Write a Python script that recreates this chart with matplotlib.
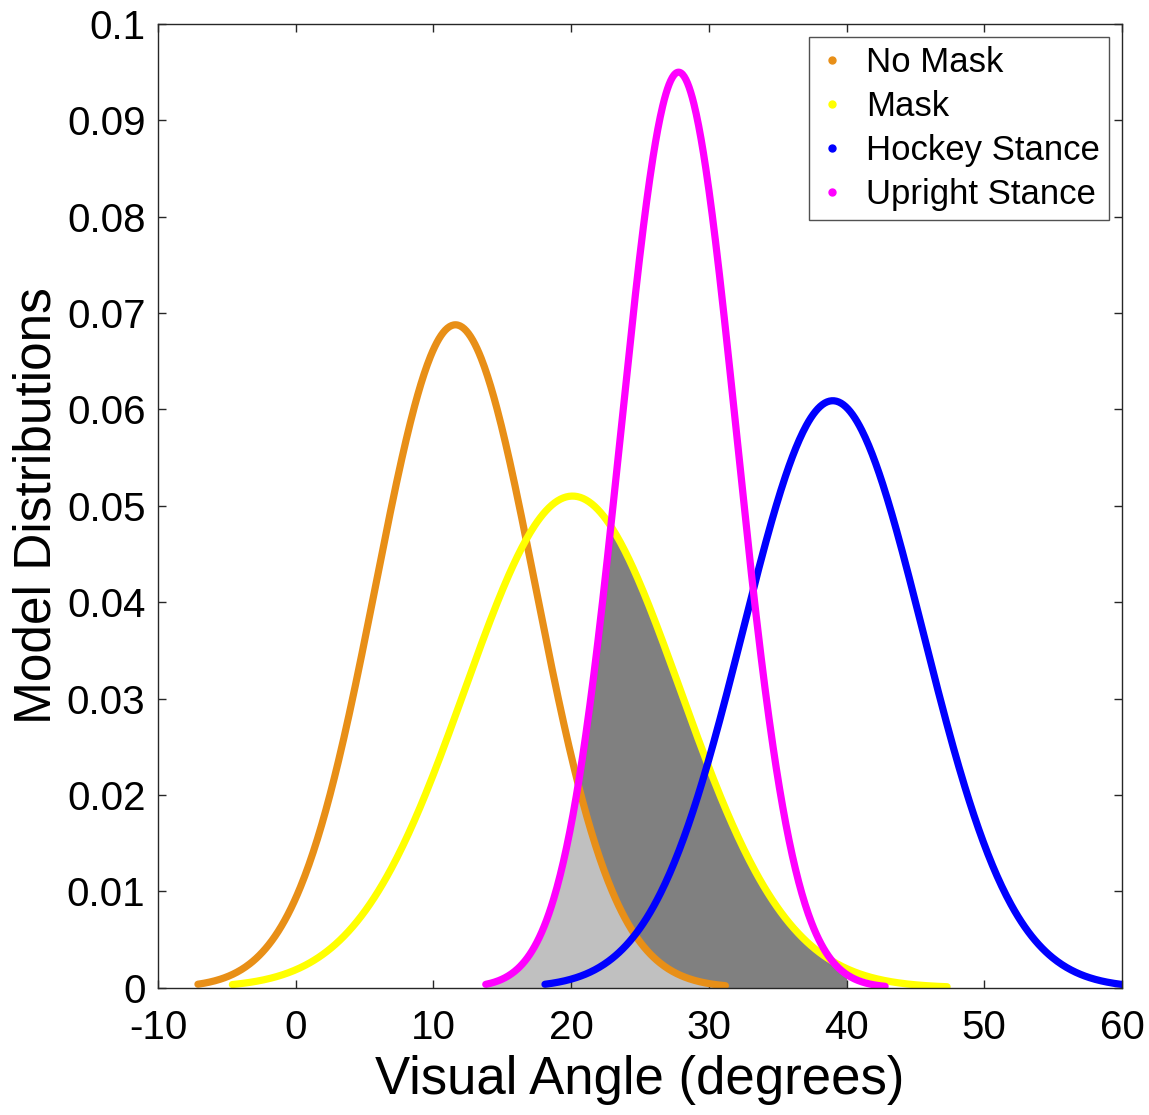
import numpy as np
import matplotlib.pyplot as plt
from matplotlib.lines import Line2D

plt.rcParams['font.family'] = ['Liberation Sans', 'DejaVu Sans']
plt.rcParams['axes.unicode_minus'] = False

# model distributions (normal), parameters
names = ['No Mask', 'Mask', 'Hockey Stance', 'Upright Stance']
colors = ['#E88F17', '#FFFF00', '#0000FF', '#FF00FF']
means = [11.6, 20.1, 39.0, 27.8]
sds = [5.80, 7.82, 6.55, 4.20]
x_start = [-7.1, -4.6, 18.1, 13.8]
x_end = [31.2, 47.3, 60.0, 42.8]

# shaded overlaps (upright stance vs mask, upright stance vs no mask)
shade_from = 13.8
shade_to = 40.0

xticks = list(range(-10, 61, 10))
yticks = [0, 0.01, 0.02, 0.03, 0.04, 0.05, 0.06, 0.07, 0.08, 0.09, 0.1]
ytick_labels = ['0', '0.01', '0.02', '0.03', '0.04', '0.05', '0.06', '0.07', '0.08', '0.09', '0.1']


def npdf(x, m, s):
    return np.exp(-0.5 * ((x - m) / s) ** 2) / (s * np.sqrt(2 * np.pi))


fig = plt.figure(figsize=(11.49, 11.15), dpi=100)
ax = fig.add_axes([0.1375, 0.114, 0.8390, 0.8646])

xs = np.linspace(shade_from, shade_to, 600)
dark = np.minimum(npdf(xs, means[1], sds[1]), npdf(xs, means[3], sds[3]))
light = np.minimum(npdf(xs, means[0], sds[0]), npdf(xs, means[3], sds[3]))
light[xs > x_end[0]] = 0
ax.fill_between(xs, 0, dark, color='#808080', lw=0)
ax.fill_between(xs, 0, light, color='#C0C0C0', lw=0)

for i in range(len(names)):
    x = np.linspace(x_start[i], x_end[i], 500)
    ax.plot(x, npdf(x, means[i], sds[i]), color=colors[i], lw=5.2,
            solid_capstyle='round')

ax.set_xlim(-10, 60)
ax.set_ylim(0, 0.1)
ax.set_xticks(xticks)
ax.set_yticks(yticks)
ax.set_yticklabels(ytick_labels)
ax.tick_params(direction='in', length=6, width=1, labelsize=29, colors='#262626',
               labelcolor='black', top=True, right=True)
ax.tick_params(axis='x', pad=15)
ax.tick_params(axis='y', pad=9)
for sp in ax.spines.values():
    sp.set_color('#262626')
    sp.set_linewidth(1)

ax.set_xlabel('Visual Angle (degrees)', fontsize=38, labelpad=6)
ax.set_ylabel('Model Distributions', fontsize=37, labelpad=4)

handles = [Line2D([], [], ls='none', marker='o', ms=5, color=c) for c in colors]
leg = ax.legend(handles, names, loc='upper right', fontsize=25, frameon=True,
                fancybox=False, edgecolor='#262626', handlelength=0.8,
                handletextpad=0.6, labelspacing=0.32, borderpad=0.25,
                borderaxespad=0.38)
leg.get_frame().set_linewidth(1)

fig.savefig('out.png', dpi=100)
